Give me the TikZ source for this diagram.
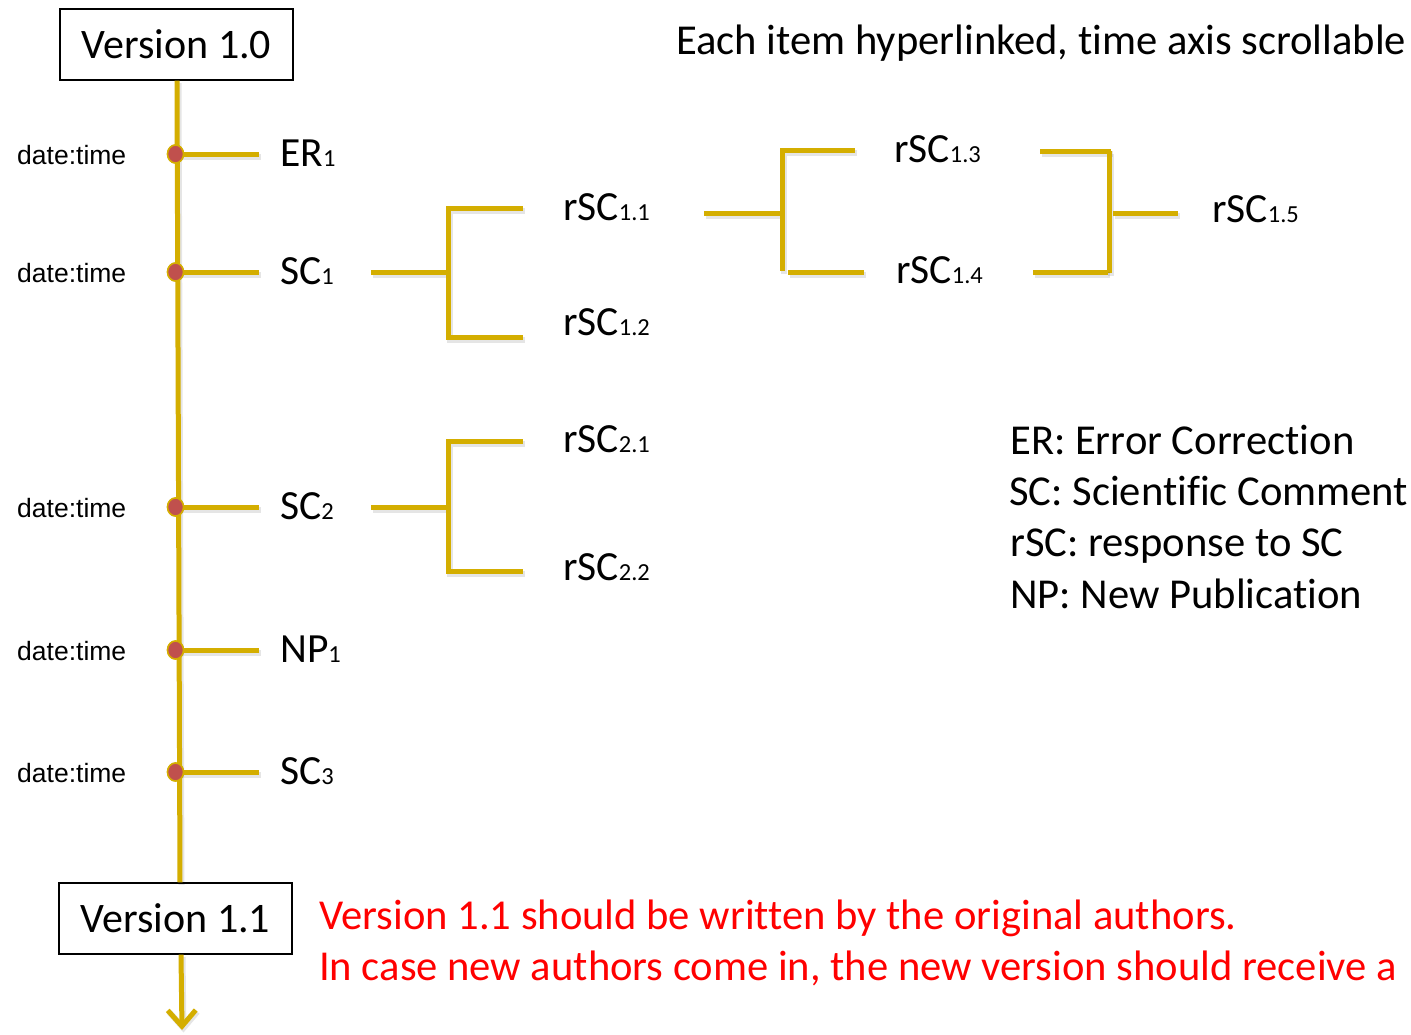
\documentclass[tikz,border=0pt]{standalone}
\usepackage{fontspec}
\setmainfont{Carlito}[Ligatures={NoCommon,NoRare,NoContextual}]
\newfontfamily\stampfont{Liberation Sans}
\usetikzlibrary{arrows.meta,shapes.geometric}
\definecolor{gold}{RGB}{212,174,0}
\definecolor{dotred}{RGB}{192,80,77}
\newcommand{\lowidx}[1]{{\fontsize{24.5}{24.5}\selectfont #1}}

\begin{document}
\begin{tikzpicture}[x=1pt,y=-1pt,
  rail/.style={draw=gold,line width=5pt,line join=miter,
    preaction={draw=black,opacity=0.10,line width=6pt,
      transform canvas={shift={(1.5pt,-2.5pt)}}}},
  evdot/.style={ellipse,draw=gold,line width=1.5pt,fill=dotred,
    minimum width=16pt,minimum height=18pt,inner sep=0pt},
  verbox/.style={draw=black,line width=1.2pt,minimum width=233pt,
    minimum height=71pt,inner sep=0pt,font=\fontsize{42}{42}\selectfont},
  item/.style={anchor=base west,inner sep=0pt,font=\fontsize{41.5}{41.5}\selectfont},
  stamp/.style={anchor=base west,inner sep=0pt,font=\stampfont\fontsize{26.5}{26.5}\selectfont},
  plain/.style={anchor=base west,inner sep=0pt,font=\fontsize{42.6}{42.6}\selectfont},
  remark/.style={plain,text=red}
]
\useasboundingbox (0,0) rectangle (1411,1034);

% version boxes and the time axis
\node[verbox] (v10) at (176.5,44.5) {Version 1.0};
\node[verbox] (v11) at (175.5,918.5) {Version 1.1};
\coordinate (tip) at (182,1030);
\draw[rail] ([xshift=0.5pt]v10.south) -- ([xshift=4.5pt]v11.north);
\draw[rail,-{Straight Barb[length=16pt,width=28pt]}] ([xshift=5.5pt]v11.south) -- (tip);

% events on the axis
\foreach \n/\y/\lab in {er1/154/ER\lowidx{1},sc1/272/SC\lowidx{1},sc2/507/SC\lowidx{2},np1/650/NP\lowidx{1},sc3/772/SC\lowidx{3}}{
  \coordinate (\n-tick) at (259,\y);
  \node[evdot] (\n-dot) at (175.5,\y) {};
  \node[stamp] (\n-time) at (17,\y+10) {date:time};
  \node[item] (\n) at (280,\y+12) {\lab};
}
\foreach \n in {er1,sc1,sc2,np1,sc3}{
  \draw[rail] (\n-dot.center) -- (\n-tick);
  \node[evdot] at (\n-dot) {};
}

% responses to SC1
\node[item] (r11) at (563,220) {rSC\lowidx{1.1}};
\node[item] (r12) at (563,335) {rSC\lowidx{1.2}};
\coordinate (b1s) at (371,272);
\coordinate (b1m) at (448,272);
\coordinate (b1t) at (523,208);
\coordinate (b1b) at (523,337);
\draw[rail] (b1s) -- (b1m);
\draw[rail] (b1t) -- (b1t -| b1m) -- (b1b -| b1m) -- (b1b);

% responses to SC2
\node[item] (r21) at (563,452) {rSC\lowidx{2.1}};
\node[item] (r22) at (563,580) {rSC\lowidx{2.2}};
\coordinate (b2s) at (371,507);
\coordinate (b2m) at (448,507);
\coordinate (b2t) at (523,441);
\coordinate (b2b) at (523,571);
\draw[rail] (b2s) -- (b2m);
\draw[rail] (b2t) -- (b2t -| b2m) -- (b2b -| b2m) -- (b2b);

% responses to rSC1.1
\node[item] (r13) at (894,162) {rSC\lowidx{1.3}};
\node[item] (r14) at (896,283) {rSC\lowidx{1.4}};
\coordinate (b3s) at (704,213);
\coordinate (b3m) at (782,213);
\coordinate (b3t) at (855,150);
\coordinate (b3v) at (782,271);
\coordinate (b3bl) at (788,272);
\coordinate (b3br) at (864,272);
\draw[rail] (b3s) -- (b3m);
\draw[rail] (b3t) -- (b3t -| b3m) -- (b3v);
\draw[rail] (b3bl) -- (b3br);

% merged response
\node[item] (r15) at (1212,222) {rSC\lowidx{1.5}};
\coordinate (b4tl) at (1040,151);
\coordinate (b4tr) at (1111,151);
\coordinate (b4bl) at (1033,272);
\coordinate (b4br) at (1108,272);
\coordinate (b4s) at (1113,213);
\coordinate (b4e) at (1178,213);
\draw[rail] (b4tl) -- (b4tr);
\draw[rail] (1109,151) -- (1109,273);
\draw[rail] (b4bl) -- (b4br);
\draw[rail] (b4s) -- (b4e);

% header and legend
\node[plain] (head) at (676,54) {Each item hyperlinked, time axis scrollable};
\node[plain] (lg1) at (1010,454) {ER: Error Correction};
\node[plain] (lg2) at (1009,505) {SC: Scientific Comment};
\node[plain] (lg3) at (1010,556) {rSC: response to SC};
\node[plain] (lg4) at (1010,608) {NP: New Publication};

% remarks about the next version
\node[remark] (rm1) at (319,929) {Version 1.1 should be written by the original authors.};
\node[remark] (rm2) at (319,980) {In case new authors come in, the new version should receive a};
\end{tikzpicture}
\end{document}
